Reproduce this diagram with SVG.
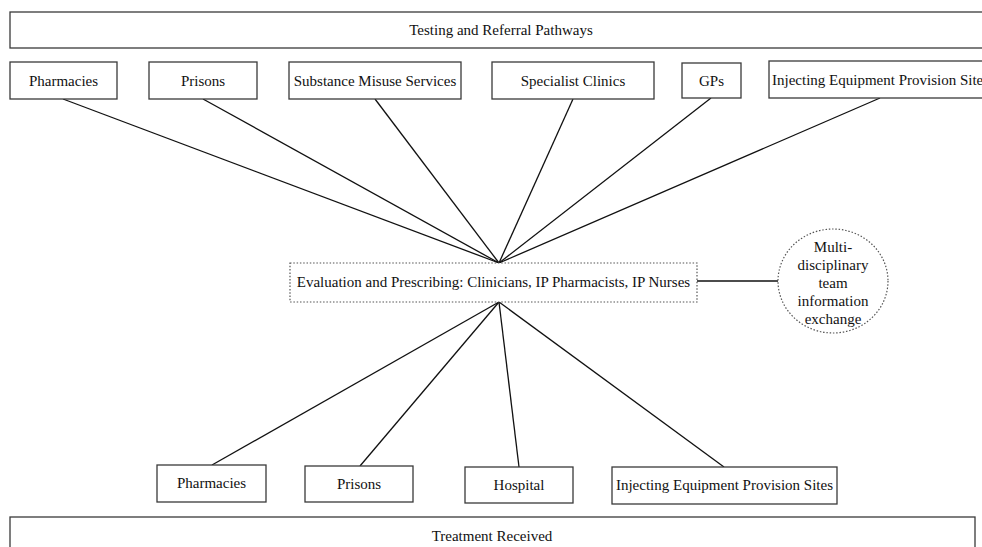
<svg xmlns="http://www.w3.org/2000/svg" width="982" height="547" viewBox="0 0 982 547">
<style>
.box{fill:#fff;stroke:#3a3a3a;stroke-width:1.3}
.dot{fill:#fff;stroke:#555;stroke-width:1.2;stroke-dasharray:1.5 1.8}
.t{font-family:"Liberation Serif","Times New Roman",serif;font-size:15px;fill:#111;text-anchor:middle}
.c line{stroke:#111;stroke-width:1.3}
</style>
<rect width="982" height="547" fill="#fff"/>
<g id="banner-top"><rect class="box" x="10" y="12" width="990" height="36"/><text class="t" x="501" y="35">Testing and Referral Pathways</text></g>
<g id="banner-bottom"><rect class="box" x="10" y="517" width="965" height="50"/><text class="t" x="492" y="541">Treatment Received</text></g>
<g class="c" id="connectors">
<line x1="63" y1="99" x2="499" y2="263"/>
<line x1="203" y1="99" x2="499" y2="263"/>
<line x1="375" y1="99" x2="499" y2="263"/>
<line x1="573" y1="99" x2="499" y2="263"/>
<line x1="711" y1="98" x2="499" y2="263"/>
<line x1="880" y1="98" x2="499" y2="263"/>
<line x1="499" y1="302" x2="212" y2="465"/>
<line x1="499" y1="302" x2="360" y2="466"/>
<line x1="499" y1="302" x2="519" y2="467"/>
<line x1="499" y1="302" x2="724" y2="467"/>
<line x1="697" y1="281" x2="778" y2="281"/>
</g>
<g id="t-pharm"><rect class="box" x="10" y="62" width="107" height="37"/><text class="t" x="63.5" y="86">Pharmacies</text></g>
<g id="t-prisons"><rect class="box" x="149" y="62" width="108" height="37"/><text class="t" x="203" y="86">Prisons</text></g>
<g id="t-sms"><rect class="box" x="289" y="62" width="172" height="37"/><text class="t" x="375" y="86">Substance Misuse Services</text></g>
<g id="t-spec"><rect class="box" x="492" y="62" width="162" height="37"/><text class="t" x="573" y="86">Specialist Clinics</text></g>
<g id="t-gps"><rect class="box" x="682" y="63" width="59" height="35"/><text class="t" x="711.5" y="86">GPs</text></g>
<g id="t-iep"><rect class="box" x="769" y="61" width="240" height="37"/><text class="t" x="883" y="85" text-anchor="start" style="text-anchor:start" dx="-111">Injecting Equipment Provision Sites</text></g>
<g id="eval"><rect class="dot" x="290" y="263" width="407" height="39"/><text class="t" x="493.5" y="287">Evaluation and Prescribing: Clinicians, IP Pharmacists, IP Nurses</text></g>
<g id="mdt"><ellipse class="dot" cx="833" cy="281" rx="55" ry="52"/>
<text class="t" x="833" y="252">Multi-</text>
<text class="t" x="833" y="270">disciplinary</text>
<text class="t" x="833" y="288">team</text>
<text class="t" x="833" y="306">information</text>
<text class="t" x="833" y="324">exchange</text></g>
<g id="b-pharm"><rect class="box" x="157" y="465" width="109" height="37"/><text class="t" x="211.5" y="488">Pharmacies</text></g>
<g id="b-prisons"><rect class="box" x="305" y="466" width="108" height="36"/><text class="t" x="359" y="489">Prisons</text></g>
<g id="b-hosp"><rect class="box" x="465" y="467" width="108" height="36"/><text class="t" x="519" y="490">Hospital</text></g>
<g id="b-iep"><rect class="box" x="612" y="467" width="225" height="37"/><text class="t" x="724.5" y="490">Injecting Equipment Provision Sites</text></g>
</svg>
